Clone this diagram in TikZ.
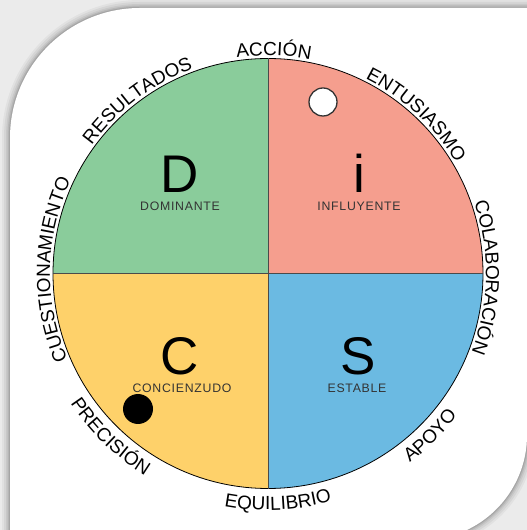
\documentclass[tikz,border=0pt]{standalone}
\usepackage{fontspec}
\setmainfont{Liberation Sans}
\newfontfamily\outerfont[LetterSpace=9]{Liberation Sans}
\newfontfamily\innerfont[LetterSpace=6]{Liberation Sans}
\usetikzlibrary{decorations.text}
\definecolor{qgreen}{HTML}{8ACC9B}
\definecolor{qred}{HTML}{F59E8E}
\definecolor{qyellow}{HTML}{FED16A}
\definecolor{qblue}{HTML}{6BBAE2}
\definecolor{bgcol}{HTML}{EBEBEB}
\definecolor{divcol}{HTML}{4A4A4A}
\definecolor{smallcol}{HTML}{333333}
\newcommand\cardshape[1]{(10-#1,392) arc[start angle=180,end angle=90,radius=130+#1] -- (527+#1,522+#1) -- (527+#1,95) arc[start angle=0,end angle=-90,radius=105+#1] -- (10-#1,-10-#1) -- cycle}
\tikzset{
  bigletter/.style={font=\fontsize{53}{53}\selectfont, text=black, inner sep=0pt, anchor=base},
  smalllabel/.style={font=\innerfont\fontsize{12.3}{12.3}\selectfont, text=smallcol, inner sep=0pt, anchor=base},
  dotmark/.style={circle, inner sep=0pt},
  divider/.style={draw=divcol, line width=1pt},
  toplabel/.style={decorate, decoration={text along path, text align=center, text={|\outerfont\fontsize{19}{19}\selectfont|#1}}},
}
\begin{document}
\begin{tikzpicture}[x=1pt,y=1pt]
\useasboundingbox (0,0) rectangle (527,530);
\fill[bgcol] (0,0) rectangle (527,530);
\foreach \s/\o in {8/0.04,6/0.05,4/0.06,2.5/0.08,1.2/0.10} {
  \fill[black,opacity=\o] \cardshape{\s};
}
\fill[white] \cardshape{0};
\coordinate (c) at (268,256.5);
% quadrants
\fill[qgreen] (c) -- ++(180:215) arc[start angle=180,end angle=90,radius=215] -- cycle;
\fill[qred] (c) -- ++(90:215) arc[start angle=90,end angle=0,radius=215] -- cycle;
\fill[qblue] (c) -- ++(0:215) arc[start angle=0,end angle=-90,radius=215] -- cycle;
\fill[qyellow] (c) -- ++(-90:215) arc[start angle=-90,end angle=-180,radius=215] -- cycle;
\node[circle, draw=black, line width=0.8pt, minimum size=430pt, inner sep=0pt] (disc) at (c) {};
\draw[divider] (disc.north) -- (disc.south);
\draw[divider] (disc.west) -- (disc.east);
% letters
\node[bigletter] (letD) at (180,337) {D};
\node[bigletter] (letI) at (359,337) {i};
\node[bigletter] (letC) at (180,155) {C};
\node[bigletter] (letS) at (358,155) {S};
\node[smalllabel] (lblD) at (180,319.5) {DOMINANTE};
\node[smalllabel] (lblI) at (359,319.5) {INFLUYENTE};
\node[smalllabel] (lblC) at (182,137) {CONCIENZUDO};
\node[smalllabel] (lblS) at (357,137) {ESTABLE};
% dots
\node[dotmark, fill=white, draw=smallcol, line width=1.3pt, minimum size=28pt] (wdot) at (323,428) {};
\node[dotmark, fill=black, minimum size=30pt] (bdot) at (138,121) {};
% outer labels (clockwise, tops outward)
\path[toplabel=ACCIÓN] (c) ++(128.5:218) arc[start angle=128.5,end angle=48.5,radius=218];
\path[toplabel=RESULTADOS] (c) ++(172:218) arc[start angle=172,end angle=82,radius=218];
\path[toplabel=ENTUSIASMO] (c) ++(92:218) arc[start angle=92,end angle=2,radius=218];
\path[toplabel=COLABORACIÓN] (c) ++(49:218) arc[start angle=49,end angle=-51,radius=218];
\path[toplabel=CUESTIONAMIENTO] (c) ++(234:218) arc[start angle=234,end angle=124,radius=218];
% outer labels (counter-clockwise, tops inward)
\path[toplabel=PRECISIÓN] (c) ++(181:236.5) arc[start angle=181,end angle=271,radius=236.5];
\path[toplabel=EQUILIBRIO] (c) ++(227.5:236.5) arc[start angle=227.5,end angle=317.5,radius=236.5];
\path[toplabel=APOYO] (c) ++(275:236.5) arc[start angle=275,end angle=355,radius=236.5];
\end{tikzpicture}
\end{document}
